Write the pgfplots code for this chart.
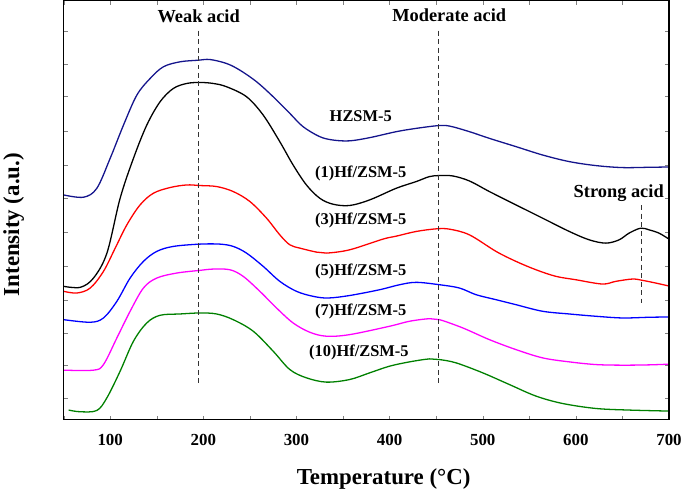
\documentclass[border=0pt]{standalone}
\usepackage{pgfplots}
\pgfplotsset{compat=1.18}
\usepackage{fontspec}
\setmainfont{Liberation Serif}
\definecolor{cnavy}{RGB}{20,20,140}
\definecolor{cblue}{RGB}{0,0,255}
\definecolor{cred}{RGB}{255,0,0}
\definecolor{cmag}{RGB}{255,0,255}
\definecolor{cgreen}{RGB}{0,128,0}
\begin{document}
\begin{tikzpicture}
\begin{axis}[
  scale only axis, width=606.7bp, height=420bp,
  xmin=50, xmax=700, ymin=0, ymax=420,
  axis line style={draw=black, line width=1.3pt},
  xtick={100,200,...,700}, minor xtick={50,150,...,650},
  ytick={22,55,87,120,154,188,222,255,289,324,356,389},
  yticklabels={},
  major tick length=4bp, minor tick length=4bp,
  /pgf/number format/assume math mode=true,
  xticklabel style={font=\fontsize{17}{20}\selectfont\bfseries, yshift=-11bp},
  xlabel={Temperature (°C)},
  ylabel={Intensity (a.u.)},
  xlabel style={font=\fontsize{23}{27}\selectfont\bfseries, at={(rel axis cs:0.5286,0)}, anchor=center, yshift=-59bp},
  ylabel style={font=\fontsize{23}{27}\selectfont\bfseries, at={(rel axis cs:0,0.4655)}, anchor=center, yshift=50bp},
  every axis plot/.append style={line width=1.3pt, smooth, tension=0.55},
  clip=false,
]
% HZSM-5
\addplot[cnavy] coordinates {
(50,225.3)(71.4,223)(85.7,232)(100,262)(114.3,295.3)(128.6,325.3)(142.9,342)(157.1,353.7)(175,358.7)(194.6,360.3)(207.1,361)(225,357)(239.3,350.3)(257.2,338.7)(275,323.7)(292.9,307)(307.1,293.7)(325,283.7)(339.3,280.3)(357.1,279.5)(378.6,282.7)(407.2,288.7)(428.6,292)(451.8,294.7)(464.3,294.3)(485.7,288.7)(507.1,282)(535.7,273.7)(564.3,265.3)(592.9,258.7)(621.5,254.7)(650,252.7)(678.6,253)(700,253.3)
};
% (1)Hf/ZSM-5
\addplot[black] coordinates {
(50,133.7)(67.9,132.7)(82.1,142)(96.5,167)(110.7,222)(125,262)(139.3,295.3)(153.6,318.7)(167.8,332)(182.2,337)(196.4,338)(210.7,337)(225,333.7)(246.4,323.7)(264.3,305.3)(282.1,278.7)(296.4,255.3)(310.7,235.3)(325,222)(339.3,216)(357.1,214.7)(378.6,220.3)(407.2,232)(428.6,238.7)(442.9,243.7)(453.6,244.7)(467.9,244.3)(485.7,239.3)(507.1,228.7)(535.7,215.3)(564.3,202)(592.9,188.7)(614.3,180.3)(632.2,177)(646.4,180.3)(657.1,187)(669.6,192)(678.6,190.3)(689.3,187)(700,181)
};
% (3)Hf/ZSM-5
\addplot[cred] coordinates {
(50,128.7)(64.3,127)(78.6,132)(92.8,148.7)(105.4,172)(117.9,195.3)(132.1,215.3)(146.4,227)(164.3,232.7)(182.2,235.3)(196.4,234.7)(214.3,233.7)(232.1,228.7)(250,218.7)(267.9,202)(282.1,185.3)(292.9,175.3)(303.6,172)(321.5,168)(332.2,167)(357.1,170.3)(392.8,181)(407.2,184)(428.6,188.7)(450,191.3)(464.3,191)(485.7,185.3)(514.3,168.7)(535.7,158.7)(557.2,150.3)(578.6,143.7)(600,140.3)(628.5,136)(642.9,138.7)(660.7,141)(671.4,139.7)(685.7,137)(700,134)
};
% (5)Hf/ZSM-5
\addplot[cblue] coordinates {
(50,100.3)(78.6,97.7)(92.8,102)(107.2,118.7)(121.4,142)(135.7,158.7)(150,168.7)(167.8,173.7)(196.4,176)(217.9,176)(232.1,173.7)(246.4,167)(264.3,153.7)(282.1,138.7)(300,128.7)(317.8,123.7)(333.9,122)(357.1,124.5)(389.3,130.3)(410.7,135.3)(428.6,137.7)(453.6,135.3)(475,132)(492.9,125.3)(514.3,120.3)(535.7,115.3)(564.3,108.7)(592.9,106)(621.5,103.7)(650,102)(678.6,102.7)(700,103)
};
% (7)Hf/ZSM-5
\addplot[cmag] coordinates {
(50,49.7)(82.1,49.7)(92.8,55.3)(107.2,82)(121.4,108.7)(135.7,132)(150,142)(171.4,147)(196.4,149.7)(210.7,151)(228.6,150.3)(242.8,143.7)(260.7,128.7)(278.6,112)(296.4,97)(314.3,87.7)(332.2,83.7)(357.1,85.3)(400,93.7)(421.4,98.7)(442.9,101.3)(453.6,100.3)(478.6,92)(507.1,80.3)(535.7,70.3)(564.3,62)(592.9,58)(621.5,55.3)(650,54.7)(678.6,55)(700,55.7)
};
% (10)Hf/ZSM-5
\addplot[cgreen] coordinates {
(55.4,9.7)(67.9,8)(85.7,9.3)(96.5,22)(110.7,48.7)(125,78.7)(139.3,97)(153.6,104.7)(175,106)(196.4,107)(214.3,106)(232.1,100.3)(253.6,88.7)(275,68.7)(292.9,50.3)(310.7,42)(332.2,37.7)(357.1,40.3)(378.6,47)(400,53.7)(421.4,58)(442.9,61)(453.6,60.3)(471.4,57)(500,47)(528.6,35.3)(557.2,23.7)(585.7,16.3)(621.5,11.3)(657.1,9.7)(700,8.7)
};
% dashed guide lines
\addplot[black!80, line width=0.9pt, dash pattern=on 5bp off 3.5bp, sharp plot] coordinates {(194.6,390)(194.6,34)};
\addplot[black!80, line width=0.9pt, dash pattern=on 5bp off 3.5bp, sharp plot] coordinates {(452,390)(452,34)};
\addplot[black!80, line width=0.9pt, dash pattern=on 5bp off 3.5bp, sharp plot] coordinates {(670.3,215)(670.3,115)};
% annotations
\node[font=\fontsize{18.5}{22}\selectfont\bfseries] at (axis cs:195,404) {Weak acid};
\node[font=\fontsize{18.5}{22}\selectfont\bfseries] at (axis cs:464,405) {Moderate acid};
\node[font=\fontsize{18.5}{22}\selectfont\bfseries] at (axis cs:646,227) {Strong acid};
\node[font=\fontsize{16.5}{20}\selectfont\bfseries] at (axis cs:369,304) {HZSM-5};
\node[font=\fontsize{16.5}{20}\selectfont\bfseries] at (axis cs:369,247) {(1)Hf/ZSM-5};
\node[font=\fontsize{16.5}{20}\selectfont\bfseries] at (axis cs:369,200) {(3)Hf/ZSM-5};
\node[font=\fontsize{16.5}{20}\selectfont\bfseries] at (axis cs:369,149) {(5)Hf/ZSM-5};
\node[font=\fontsize{16.5}{20}\selectfont\bfseries] at (axis cs:369,109) {(7)Hf/ZSM-5};
\node[font=\fontsize{16.5}{20}\selectfont\bfseries] at (axis cs:367,67) {(10)Hf/ZSM-5};
\draw[black, line width=1.3pt] (rel axis cs:0,0) rectangle (rel axis cs:1,1);
\end{axis}
\end{tikzpicture}
\end{document}
